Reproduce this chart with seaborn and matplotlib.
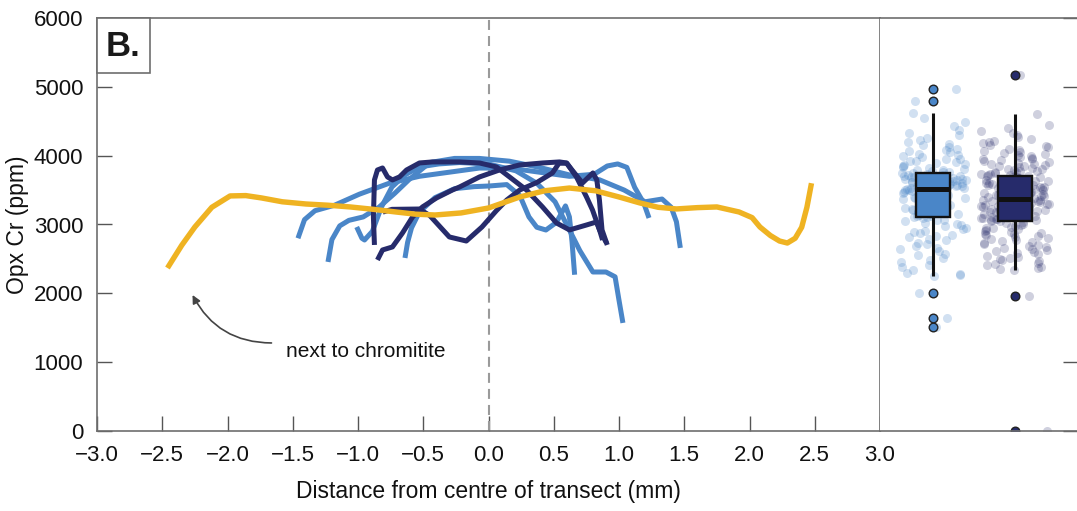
import numpy as np
import pandas as pd
import matplotlib
matplotlib.use("Agg")
import matplotlib.pyplot as plt
import seaborn as sns
from matplotlib.patches import Rectangle

# ---------------- data ----------------
x_ticks = [-3.0, -2.5, -2.0, -1.5, -1.0, -0.5, 0.0, 0.5, 1.0, 1.5, 2.0, 2.5, 3.0]
y_ticks = [0, 1000, 2000, 3000, 4000, 5000, 6000]

# transect next to chromitite (yellow)
chrom_x = [-2.46, -2.35, -2.25, -2.12, -1.98, -1.86, -1.74, -1.58, -1.40, -1.23, -1.06, -0.88,
           -0.71, -0.56, -0.41, -0.21, 0.00, 0.24, 0.43, 0.62, 0.82, 1.00, 1.16, 1.30, 1.44,
           1.60, 1.75, 1.92, 2.02, 2.08, 2.16, 2.23, 2.29, 2.35, 2.40, 2.44, 2.475]
chrom_y = [2368, 2700, 2964, 3250, 3415, 3420, 3386, 3330, 3298, 3280, 3255, 3220,
           3182, 3150, 3138, 3168, 3240, 3400, 3490, 3530, 3490, 3400, 3313, 3250, 3226,
           3245, 3255, 3182, 3100, 2964, 2840, 2760, 2731, 2800, 2960, 3250, 3600]

# light blue transects
lb1_x = [-1.46, -1.41, -1.33, -1.18, -0.99, -0.76, -0.53, -0.30, -0.07, 0.16, 0.39, 0.62,
         0.81, 0.91, 0.99, 1.06, 1.12, 1.19, 1.23]
lb1_y = [2800, 3070, 3200, 3280, 3440, 3600, 3700, 3760, 3820, 3820, 3760, 3700,
         3730, 3850, 3880, 3830, 3540, 3310, 3095]
lb2_x = [-1.23, -1.20, -1.14, -1.07, -0.96, -0.84, -0.72, -0.61, -0.45, -0.26, -0.07, 0.16,
         0.39, 0.62, 0.85, 1.04, 1.20, 1.33, 1.40, 1.44, 1.47]
lb2_y = [2456, 2780, 2980, 3060, 3110, 3250, 3450, 3650, 3900, 3960, 3960, 3920,
         3830, 3720, 3650, 3500, 3330, 3370, 3250, 3040, 2660]
lb3_x = [-1.01, -0.97, -0.95, -0.89, -0.82, -0.74, -0.64, -0.53, -0.38, -0.22, 0.00, 0.21,
         0.37, 0.51, 0.62, 0.70, 0.80, 0.90, 0.97, 1.00, 1.03]
lb3_y = [2964, 2800, 2775, 2900, 3255, 3545, 3720, 3836, 3880, 3900, 3880, 3780,
         3600, 3330, 2920, 2620, 2310, 2310, 2240, 1900, 1570]
lb4_x = [-0.64, -0.62, -0.59, -0.53, -0.41, -0.26, -0.11, 0.01, 0.14, 0.24, 0.31, 0.37,
         0.44, 0.52, 0.59, 0.62, 0.64, 0.66]
lb4_y = [2514, 2740, 2950, 3180, 3390, 3520, 3550, 3560, 3580, 3420, 3110, 2960,
         2920, 3030, 3270, 3110, 2750, 2270]

# dark navy transects
nv1_x = [-0.874, -0.882, -0.874, -0.851, -0.812, -0.774, -0.736, -0.682, -0.628, -0.529,
         -0.429, -0.222, -0.069, 0.061, 0.161, 0.291, 0.414, 0.521, 0.621, 0.751, 0.828,
         0.851, 0.904]
nv1_y = [2703, 3109, 3647, 3792, 3821, 3691, 3647, 3691, 3792, 3894,
         3909, 3909, 3894, 3836, 3691, 3502, 3255, 3022, 2921, 2993, 3037,
         2921, 2732]
nv2_x = [-0.851, -0.812, -0.736, -0.659, -0.582, -0.506, -0.398, -0.276, -0.222, -0.069,
         0.084, 0.238, 0.414, 0.544, 0.598, 0.674, 0.751, 0.797, 0.851, 0.874]
nv2_y = [2485, 2630, 2674, 2877, 3109, 3255, 3386, 3502, 3545, 3691,
         3792, 3865, 3894, 3909, 3894, 3691, 3400, 3211, 2921, 2775]
nv3_x = [-0.81, -0.74, -0.53, -0.45, -0.30, -0.17, -0.05, 0.06, 0.14, 0.24, 0.37, 0.49,
         0.54, 0.60, 0.64, 0.72, 0.80, 0.83, 0.85, 0.87, 0.91]
nv3_y = [3180, 3220, 3225, 3130, 2819, 2760, 2964, 3200, 3356, 3502, 3610, 3749,
         3890, 3890, 3792, 3603, 3749, 3647, 3356, 2921, 2703]

# box plot populations (ppm)
group_names = ["light", "dark"]
light_vals = [1510, 1640, 2005, 2250,
              2262, 2275, 2298, 2334, 2381, 2405, 2452, 2488, 2517, 2556, 2574, 2612, 2638,
              2665, 2687, 2713, 2736, 2768, 2785, 2812, 2834, 2847, 2876, 2893, 2905, 2938,
              2947, 2972, 2991, 3012, 3028, 3046, 3063, 3072, 3088, 3103,
              3110,
              3118, 3127, 3139, 3146, 3158, 3171, 3176, 3188, 3197, 3212, 3219, 3231, 3243,
              3248, 3262, 3271, 3283, 3287, 3302, 3309, 3318, 3334, 3341, 3356, 3362, 3373,
              3384, 3391, 3405, 3414, 3419, 3432, 3445, 3452, 3461, 3473, 3482, 3496, 3507,
              3515,
              3519, 3524, 3531, 3536, 3541, 3547, 3553, 3558, 3562, 3569, 3574, 3578, 3585,
              3591, 3596, 3602, 3607, 3611, 3618, 3623, 3629, 3634, 3641, 3646, 3652, 3657,
              3663, 3668, 3674, 3679, 3685, 3691, 3697, 3702, 3708, 3714, 3721, 3729, 3741,
              3750,
              3758, 3766, 3779, 3788, 3797, 3812, 3824, 3836, 3851, 3863, 3872, 3889, 3903,
              3917, 3928, 3946, 3958, 3974, 3991, 4008, 4023, 4047, 4066, 4085, 4104, 4128,
              4152, 4176, 4203, 4231, 4262, 4298, 4335, 4378, 4426, 4483, 4551,
              4620, 4795, 4970]
dark_vals = [0, 1960, 2340,
             2352, 2367, 2389, 2405, 2421, 2446, 2463, 2478, 2497, 2512,
             2531, 2549, 2566, 2580, 2597, 2611, 2628, 2643, 2659, 2674,
             2688, 2703, 2717, 2731, 2746, 2760, 2772, 2787, 2801, 2815,
             2828, 2841, 2855, 2868, 2880, 2893, 2906, 2918, 2931, 2943,
             2956, 2968, 2981, 2993, 3008, 3022, 3038,
             3050,
             3056, 3062, 3069, 3075, 3081, 3088, 3094, 3101, 3107, 3113,
             3120, 3126, 3133, 3139, 3146, 3152, 3158, 3165, 3171, 3178,
             3184, 3191, 3197, 3204, 3210, 3216, 3223, 3229, 3236, 3242,
             3249, 3255, 3262, 3268, 3274, 3281, 3287, 3294, 3300, 3307,
             3313, 3320, 3326, 3333, 3339, 3345, 3352, 3358, 3364,
             3370,
             3377, 3384, 3391, 3398, 3405, 3412, 3418, 3425, 3432, 3439,
             3446, 3453, 3459, 3466, 3473, 3480, 3487, 3494, 3500, 3507,
             3514, 3521, 3528, 3535, 3541, 3548, 3555, 3562, 3569, 3576,
             3582, 3589, 3596, 3603, 3610, 3617, 3623, 3630, 3637, 3644,
             3651, 3658, 3664, 3671, 3678, 3685, 3691, 3697, 3701,
             3705,
             3712, 3721, 3729, 3738, 3747, 3756, 3765, 3774, 3783, 3793,
             3802, 3812, 3822, 3832, 3843, 3853, 3864, 3875, 3886, 3897,
             3909, 3921, 3933, 3946, 3958, 3971, 3985, 3998, 4012, 4027,
             4041, 4056, 4072, 4088, 4104, 4121, 4139, 4158, 4177, 4198,
             4219, 4242, 4267, 4294, 4324, 4358, 4398, 4452,
             4605, 5175]

# ---------------- style ----------------
LIGHT = "#4A86C8"
DARK = "#262B6B"
YELLOW = "#EFB322"
SPINE = "#6E6E6E"

sns.set_theme(style="white")
plt.rcParams["font.family"] = ["Liberation Sans", "DejaVu Sans"]

fig = plt.figure(figsize=(10.77, 5.11), dpi=100)
W, H = 1077.0, 511.0
ax = fig.add_axes([97 / W, 1 - 431 / H, 783 / W, 413 / H])
ax2 = fig.add_axes([880 / W, 1 - 431 / H, 197 / W, 413 / H])

line_kw = dict(estimator=None, sort=False, legend=False, linewidth=3.6,
               solid_joinstyle="round", solid_capstyle="butt")
for xs, ys in [(lb1_x, lb1_y), (lb2_x, lb2_y), (lb3_x, lb3_y), (lb4_x, lb4_y)]:
    sns.lineplot(x=xs, y=ys, ax=ax, color=LIGHT, zorder=3, **line_kw)
for xs, ys in [(nv1_x, nv1_y), (nv2_x, nv2_y), (nv3_x, nv3_y)]:
    sns.lineplot(x=xs, y=ys, ax=ax, color=DARK, zorder=4, **line_kw)
sns.lineplot(x=chrom_x, y=chrom_y, ax=ax, color=YELLOW, zorder=5,
             **{**line_kw, "linewidth": 3.9})

ax.axvline(0, color="#9A9A9A", lw=1.5, ls=(0, (4.8, 2.9)), zorder=2)

ax.set_xlim(-3, 3)
ax.set_ylim(0, 6000)
ax.set_xticks(x_ticks)
ax.set_yticks(y_ticks)
ax.tick_params(axis="both", which="both", direction="in", length=11, width=1,
               color="#555555", labelsize=16, pad=10, bottom=True, left=True,
               top=False, right=False, labelcolor="#111111")
ax.set_xlabel("Distance from centre of transect (mm)", fontsize=16.5, labelpad=10,
              color="#111111")
ax.set_ylabel("Opx Cr (ppm)", fontsize=16.5, labelpad=3, color="#111111")
for s in ax.spines.values():
    s.set_color(SPINE)
    s.set_linewidth(1.2)

# panel letter
ax.add_patch(Rectangle((0, 1 - 55 / 413), 53 / 783, 55 / 413, transform=ax.transAxes,
                       facecolor="white", edgecolor=SPINE, lw=1.2, zorder=10,
                       clip_on=False))
ax.text(26.5 / 783, 1 - 28 / 413, "B.", transform=ax.transAxes, ha="center",
        va="center", fontsize=25, fontweight="bold", color="#1a1a1a", zorder=11)

# annotation
ax.annotate("", xy=(-2.268, 1976), xytext=(-1.663, 1279),
            arrowprops=dict(arrowstyle="-|>", color="#444444", lw=1.2,
                            mutation_scale=12, shrinkA=0, shrinkB=0,
                            connectionstyle="arc3,rad=-0.3"), zorder=6)
ax.text(-1.548, 1162, "next to chromitite", ha="left", va="center", fontsize=15,
        color="#111111")

# ---------------- box panel ----------------
df = pd.DataFrame({
    "group": [group_names[0]] * len(light_vals) + [group_names[1]] * len(dark_vals),
    "value": light_vals + dark_vals,
})
np.random.seed(3)
for g, c, a in [(group_names[0], LIGHT, 0.25), (group_names[1], DARK, 0.22)]:
    sub = df[df["group"] == g]
    sns.stripplot(data=sub, x="group", y="value", order=group_names, color=c,
                  alpha=a, size=6.5, jitter=0.42, linewidth=0, ax=ax2, zorder=1)
for g, c in [(group_names[0], LIGHT), (group_names[1], DARK)]:
    sub = df[df["group"] == g]
    sns.boxplot(data=sub, x="group", y="value", order=group_names, color=c,
                saturation=1, width=0.42, linecolor="#111111", linewidth=1.7,
                showcaps=False, ax=ax2,
                medianprops=dict(linewidth=3.6, color="#111111"),
                whiskerprops=dict(linewidth=2.2, color="#111111"),
                flierprops=dict(marker="o", markersize=6.2, markerfacecolor=c,
                                markeredgecolor="#222222", markeredgewidth=1.0))

ax2.set_xlim(-0.646, 1.756)
ax2.set_ylim(0, 6000)
ax2.set_xlabel("")
ax2.set_ylabel("")
ax2.set_xticks([])
ax2.set_yticks(y_ticks)
ax2.yaxis.tick_right()
ax2.tick_params(axis="y", direction="in", length=10, width=1, color="#555555",
                labelright=False, labelleft=False, right=True, left=False)
ax2.spines["left"].set_visible(False)
ax2.spines["right"].set_visible(False)
for k in ["top", "bottom"]:
    ax2.spines[k].set_color(SPINE)
    ax2.spines[k].set_linewidth(1.2)
ax2.grid(False)
ax.grid(False)

fig.savefig("out.png", dpi=100)
